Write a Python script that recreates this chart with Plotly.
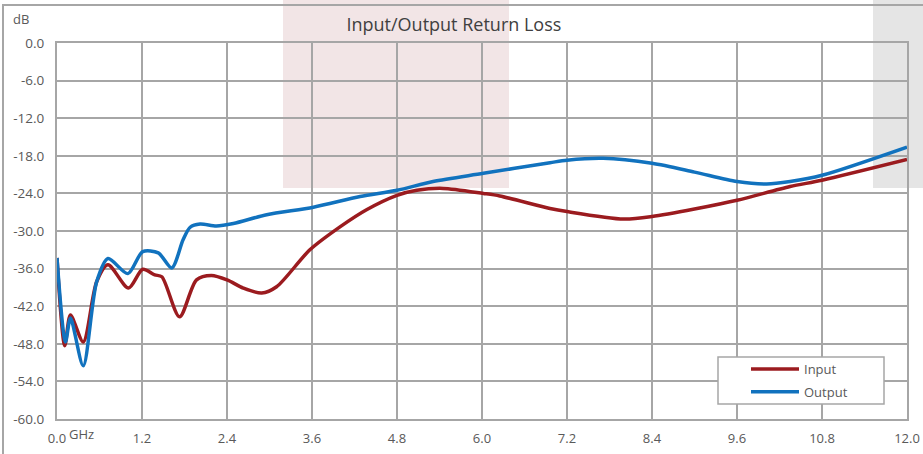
import plotly.graph_objects as go

# ---- data ----
freq_in = [0.0, 0.11, 0.19, 0.37, 0.56, 0.72, 1.01, 1.21, 1.38, 1.48, 1.73, 1.97, 2.18, 2.40, 2.63,
           2.89, 3.10, 3.57, 4.0, 4.37, 4.80, 5.08, 5.45, 6.02, 6.25, 6.96, 7.2, 8.0, 8.40, 9.0,
           9.6, 10.35, 10.80, 12.0]
input_db = [-34.3, -48.3, -43.4, -47.7, -38.1, -35.4, -39.1, -36.1, -37.0, -37.3, -43.7, -37.8, -37.1,
            -37.8, -39.1, -39.9, -38.9, -33.0, -29.3, -26.6, -24.3, -23.5, -23.2, -24.0, -24.4, -26.4,
            -26.9, -28.1, -27.7, -26.5, -25.1, -22.9, -21.9, -18.6]

freq_out = [0.0, 0.12, 0.19, 0.37, 0.56, 0.72, 1.0, 1.21, 1.43, 1.62, 1.78, 1.88, 2.02, 2.25, 2.49,
            2.96, 3.62, 4.28, 4.80, 5.31, 6.02, 6.96, 7.2, 7.71, 8.40, 9.0, 9.6, 10.02, 10.35, 10.80, 12.0]
output_db = [-34.3, -47.7, -43.9, -51.5, -38.1, -34.4, -36.8, -33.3, -33.5, -35.9, -31.4, -29.4, -28.9,
             -29.2, -28.8, -27.4, -26.2, -24.5, -23.5, -22.1, -20.8, -19.1, -18.7, -18.4, -19.2, -20.6,
             -22.1, -22.5, -22.1, -21.1, -16.6]

x_ticks = [0.0, 1.2, 2.4, 3.6, 4.8, 6.0, 7.2, 8.4, 9.6, 10.8, 12.0]
y_ticks = [0.0, -6.0, -12.0, -18.0, -24.0, -30.0, -36.0, -42.0, -48.0, -54.0, -60.0]

RED = "#9B1B1F"
BLUE = "#1172BE"
GRID = "#A6A6A6"
TXT = "#595959"
FONT = "Open Sans"

W, H = 923, 454
L, R, T, B = 57, 16, 43, 35
pw, ph = W - L - R, H - T - B


def px(x):
    return (x - L) / pw


def py(y):
    return (H - B - y) / ph


fig = go.Figure()
fig.add_trace(go.Scatter(x=freq_in, y=input_db, name="Input", mode="lines",
                         line=dict(color=RED, width=3.5, shape="spline", smoothing=0.8),
                         legendgroup="a"))
fig.add_trace(go.Scatter(x=freq_out, y=output_db, name="Output", mode="lines",
                         line=dict(color=BLUE, width=3.5, shape="spline", smoothing=0.8),
                         legendgroup="b"))

shapes = [
    dict(type="rect", xref="paper", yref="paper", x0=px(283), x1=px(509), y0=py(188), y1=py(-5),
         fillcolor="#F2E5E6", line=dict(width=0), layer="below"),
    dict(type="rect", xref="paper", yref="paper", x0=px(873), x1=px(930), y0=py(188), y1=py(-5),
         fillcolor="#E5E5E5", line=dict(width=0), layer="below"),
    dict(type="rect", xref="paper", yref="paper", x0=px(3), x1=px(940), y0=py(470), y1=py(5),
         fillcolor="rgba(0,0,0,0)", line=dict(color=GRID, width=2), layer="above"),
    dict(type="rect", xref="paper", yref="paper", x0=px(718), x1=px(884), y0=py(404), y1=py(357),
         fillcolor="white", line=dict(color=GRID, width=1.5), layer="above"),
]

annotations = [
    dict(text="dB", xref="paper", yref="paper", x=px(11), y=py(19), xanchor="left", yanchor="middle",
         showarrow=False, font=dict(family=FONT, size=13, color=TXT)),
    dict(text="GHz", xref="paper", yref="paper", x=px(67), y=py(434), xanchor="left", yanchor="middle",
         showarrow=False, font=dict(family=FONT, size=13, color=TXT)),
]

fig.update_layout(
    width=W, height=H,
    margin=dict(l=L, r=R, t=T, b=B, autoexpand=False),
    paper_bgcolor="white",
    plot_bgcolor="rgba(0,0,0,0)",
    title=dict(text="Input/Output Return Loss", x=px(475), xanchor="center", y=1 - 25 / H,
               yanchor="middle", font=dict(family=FONT, size=18, color="#404040")),
    font=dict(family=FONT, size=13, color=TXT),
    shapes=shapes,
    annotations=annotations,
    showlegend=True,
    legend=dict(x=px(746), y=py(354), xanchor="left", yanchor="top", bgcolor="rgba(0,0,0,0)",
                borderwidth=0, itemwidth=48, traceorder="grouped", tracegroupgap=3,
                font=dict(family=FONT, size=13, color=TXT)),
    xaxis=dict(range=[0, 12], tickvals=x_ticks, ticktext=["0.0"] + [f"{v:.1f}" for v in x_ticks[1:]],
               showgrid=True, gridcolor=GRID, gridwidth=2, zeroline=False,
               showline=True, linecolor=GRID, linewidth=2, mirror=True,
               ticks="", ticklabelstandoff=6, tickfont=dict(family=FONT, size=13, color=TXT)),
    yaxis=dict(range=[-60, 0], tickvals=y_ticks, ticktext=[f"{v:.1f}" for v in y_ticks],
               showgrid=True, gridcolor=GRID, gridwidth=2, zeroline=False,
               showline=True, linecolor=GRID, linewidth=2, mirror=True,
               ticks="", ticklabelstandoff=8, tickfont=dict(family=FONT, size=13.5, color=TXT)),
)

fig.write_html("out.html", config={"displayModeBar": False},
               post_script="document.body.style.margin='0px';document.body.style.padding='0px';")
